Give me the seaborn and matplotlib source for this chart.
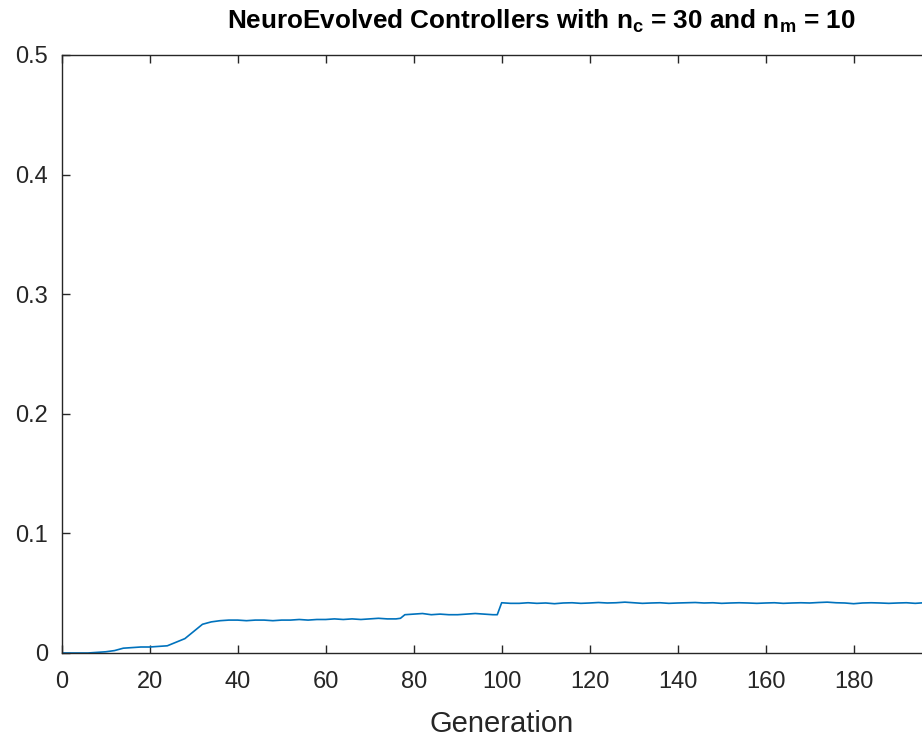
import matplotlib
matplotlib.use("Agg")
import matplotlib.pyplot as plt
import matplotlib.ticker as mticker
import seaborn as sns
import pandas as pd

# Best fitness per generation
generation = [0, 2, 4, 6, 8, 10, 12, 14, 16, 18, 20, 22, 24, 26, 28, 30, 32, 34, 36, 38,
              40, 42, 44, 46, 48, 50, 52, 54, 56, 58, 60, 62, 64, 66, 68, 70, 72, 74, 76, 77,
              78, 80, 82, 84, 86, 88, 90, 92, 94, 96, 98, 99, 100, 102, 104, 106, 108, 110,
              112, 114, 116, 118, 120, 122, 124, 126, 128, 130, 132, 134, 136, 138, 140,
              142, 144, 146, 148, 150, 152, 154, 156, 158, 160, 162, 164, 166, 168, 170,
              172, 174, 176, 178, 180, 182, 184, 186, 188, 190, 192, 194, 196, 198]
fitness = [0, 0, 0, 0, 0.0005, 0.001, 0.002, 0.004, 0.0045, 0.005, 0.005, 0.0055, 0.006,
           0.009, 0.012, 0.018, 0.024, 0.026, 0.027, 0.0275,
           0.0275, 0.027, 0.0275, 0.0275, 0.027, 0.0275, 0.0275, 0.028, 0.0275, 0.028,
           0.028, 0.0285, 0.028, 0.0285, 0.028, 0.0285, 0.029, 0.0285, 0.0285, 0.029,
           0.032, 0.0325, 0.033, 0.032, 0.0325, 0.032, 0.032, 0.0325, 0.033, 0.0325, 0.032,
           0.032, 0.042, 0.0415, 0.0415, 0.042, 0.0415, 0.0418,
           0.0412, 0.0418, 0.042, 0.0415, 0.0418, 0.0422, 0.0418, 0.042, 0.0425, 0.042,
           0.0415, 0.0418, 0.042, 0.0415, 0.0418,
           0.042, 0.0422, 0.0418, 0.042, 0.0415, 0.0418, 0.042, 0.0418, 0.0415, 0.0418,
           0.042, 0.0415, 0.0418, 0.042, 0.0418,
           0.0422, 0.0425, 0.042, 0.0418, 0.0412, 0.0418, 0.042, 0.0418, 0.0415, 0.0418,
           0.042, 0.0415, 0.042, 0.042]

x_ticks = [0, 20, 40, 60, 80, 100, 120, 140, 160, 180]
y_ticks = [0, 0.1, 0.2, 0.3, 0.4, 0.5]

df = pd.DataFrame({"Generation": generation, "Fitness": fitness})

sns.set_theme(style="ticks")
plt.rcParams["font.family"] = ["Liberation Sans", "DejaVu Sans"]
plt.rcParams["mathtext.fontset"] = "custom"
plt.rcParams["mathtext.rm"] = "Liberation Sans"
plt.rcParams["mathtext.it"] = "Liberation Sans"
plt.rcParams["mathtext.bf"] = "Liberation Sans:bold"

fig = plt.figure(figsize=(9.22, 7.38), dpi=100)
# the axes run past the right edge, as in the cropped original
ax = fig.add_axes([0.0669, 0.1152, 0.9544, 0.8103])

sns.lineplot(data=df, x="Generation", y="Fitness", ax=ax, color="#0072BD", linewidth=1.2)

ax.set_xlim(0, 200)
ax.set_ylim(0, 0.5)
ax.set_xticks(x_ticks)
ax.set_yticks(y_ticks)
ax.yaxis.set_major_formatter(mticker.FormatStrFormatter("%g"))
ax.tick_params(direction="in", length=6, width=1, color="#262626",
               labelsize=17, labelcolor="#262626", top=True, right=True)
ax.tick_params(axis="x", pad=13)
ax.tick_params(axis="y", pad=10)
for side in ["left", "bottom", "top", "right"]:
    ax.spines[side].set_color("#262626")
    ax.spines[side].set_linewidth(1.0)

ax.set_xlabel("Generation", fontsize=21, color="#262626", labelpad=12)
ax.set_ylabel("")
ax.set_title(r"NeuroEvolved Controllers with $\mathbf{n_c}$ = 30 and $\mathbf{n_m}$ = 10",
             fontsize=18.8, fontweight="bold", color="black", pad=19,
             x=(542 - 62) / 880)

fig.savefig("out.png", dpi=100)
plt.close(fig)
